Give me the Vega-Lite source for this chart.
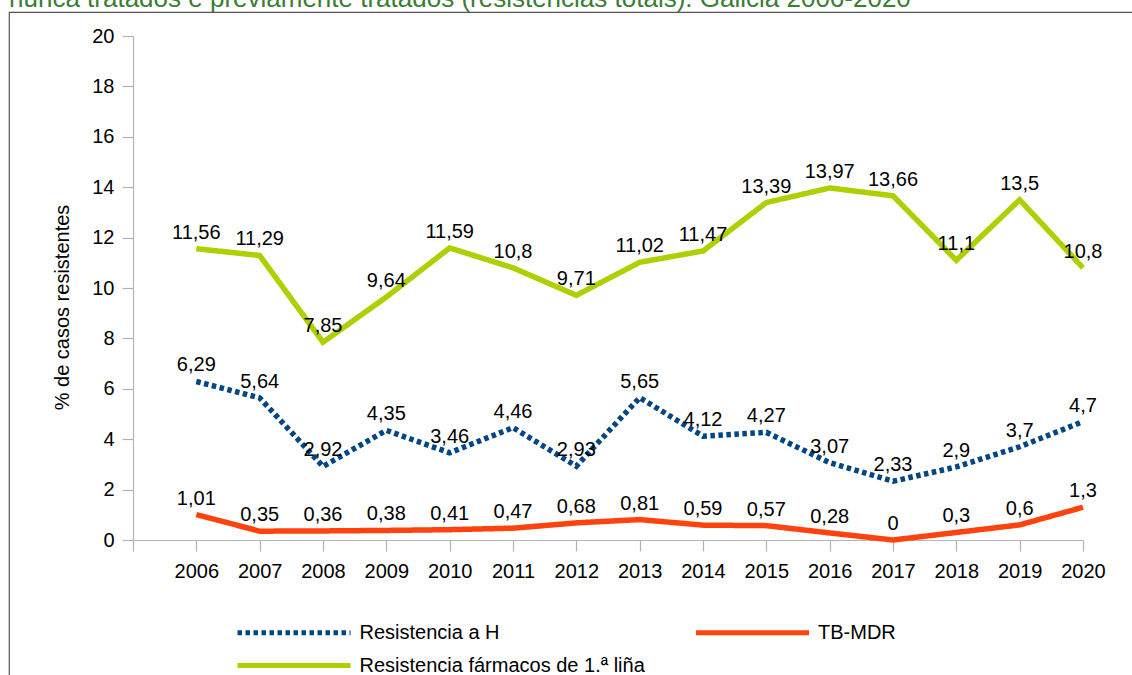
{
  "$schema": "https://vega.github.io/schema/vega-lite/v6.json",
  "width": 1123,
  "height": 663,
  "autosize": {"type": "none"},
  "padding": {"left": 9, "top": 12, "right": 0, "bottom": 0},
  "title": {
    "text": "nunca tratados e previamente tratados (resistencias totais). Galicia 2006-2020",
    "anchor": "start",
    "frame": "group",
    "fontSize": 26,
    "fontWeight": "normal",
    "font": "Liberation Sans",
    "color": "#3b7d36",
    "baseline": "alphabetic",
    "offset": -21
  },
  "data": {
    "values": [
      {"year": 2006, "series": "Resistencia a H", "value": 6.29},
      {"year": 2007, "series": "Resistencia a H", "value": 5.64},
      {"year": 2008, "series": "Resistencia a H", "value": 2.92},
      {"year": 2009, "series": "Resistencia a H", "value": 4.35},
      {"year": 2010, "series": "Resistencia a H", "value": 3.46},
      {"year": 2011, "series": "Resistencia a H", "value": 4.46},
      {"year": 2012, "series": "Resistencia a H", "value": 2.93},
      {"year": 2013, "series": "Resistencia a H", "value": 5.65},
      {"year": 2014, "series": "Resistencia a H", "value": 4.12},
      {"year": 2015, "series": "Resistencia a H", "value": 4.27},
      {"year": 2016, "series": "Resistencia a H", "value": 3.07},
      {"year": 2017, "series": "Resistencia a H", "value": 2.33},
      {"year": 2018, "series": "Resistencia a H", "value": 2.9},
      {"year": 2019, "series": "Resistencia a H", "value": 3.7},
      {"year": 2020, "series": "Resistencia a H", "value": 4.7},
      {"year": 2006, "series": "TB-MDR", "value": 1.01},
      {"year": 2007, "series": "TB-MDR", "value": 0.35},
      {"year": 2008, "series": "TB-MDR", "value": 0.36},
      {"year": 2009, "series": "TB-MDR", "value": 0.38},
      {"year": 2010, "series": "TB-MDR", "value": 0.41},
      {"year": 2011, "series": "TB-MDR", "value": 0.47},
      {"year": 2012, "series": "TB-MDR", "value": 0.68},
      {"year": 2013, "series": "TB-MDR", "value": 0.81},
      {"year": 2014, "series": "TB-MDR", "value": 0.59},
      {"year": 2015, "series": "TB-MDR", "value": 0.57},
      {"year": 2016, "series": "TB-MDR", "value": 0.28},
      {"year": 2017, "series": "TB-MDR", "value": 0},
      {"year": 2018, "series": "TB-MDR", "value": 0.3},
      {"year": 2019, "series": "TB-MDR", "value": 0.6},
      {"year": 2020, "series": "TB-MDR", "value": 1.3},
      {"year": 2006, "series": "Resistencia fármacos de 1.ª liña", "value": 11.56},
      {"year": 2007, "series": "Resistencia fármacos de 1.ª liña", "value": 11.29},
      {"year": 2008, "series": "Resistencia fármacos de 1.ª liña", "value": 7.85},
      {"year": 2009, "series": "Resistencia fármacos de 1.ª liña", "value": 9.64},
      {"year": 2010, "series": "Resistencia fármacos de 1.ª liña", "value": 11.59},
      {"year": 2011, "series": "Resistencia fármacos de 1.ª liña", "value": 10.8},
      {"year": 2012, "series": "Resistencia fármacos de 1.ª liña", "value": 9.71},
      {"year": 2013, "series": "Resistencia fármacos de 1.ª liña", "value": 11.02},
      {"year": 2014, "series": "Resistencia fármacos de 1.ª liña", "value": 11.47},
      {"year": 2015, "series": "Resistencia fármacos de 1.ª liña", "value": 13.39},
      {"year": 2016, "series": "Resistencia fármacos de 1.ª liña", "value": 13.97},
      {"year": 2017, "series": "Resistencia fármacos de 1.ª liña", "value": 13.66},
      {"year": 2018, "series": "Resistencia fármacos de 1.ª liña", "value": 11.1},
      {"year": 2019, "series": "Resistencia fármacos de 1.ª liña", "value": 13.5},
      {"year": 2020, "series": "Resistencia fármacos de 1.ª liña", "value": 10.8}
    ]
  },
  "encoding": {
    "x": {
      "field": "year",
      "type": "quantitative",
      "scale": {"domain": [2005, 2020], "range": [124, 1074], "nice": false, "zero": false},
      "axis": {
        "title": null,
        "orient": "bottom",
        "offset": -135,
        "values": [2005, 2006, 2007, 2008, 2009, 2010, 2011, 2012, 2013, 2014, 2015, 2016, 2017, 2018, 2019, 2020],
        "format": "d",
        "labelExpr": "datum.value == 2005 ? '' : datum.label",
        "labelOverlap": false,
        "labelFlush": false,
        "tickSize": 11,
        "labelPadding": 10,
        "grid": false
      }
    },
    "y": {
      "field": "value",
      "type": "quantitative",
      "scale": {"domain": [0, 20], "range": [528, 24], "nice": false},
      "axis": {
        "title": "% de casos resistentes",
        "orient": "left",
        "offset": -124,
        "values": [0, 2, 4, 6, 8, 10, 12, 14, 16, 18, 20],
        "labelOverlap": false,
        "tickSize": 11,
        "labelPadding": 8,
        "grid": false,
        "titleX": -71,
        "titleY": 295,
        "titleBaseline": "middle",
        "titleAngle": 270
      }
    }
  },
  "layer": [
    {
      "mark": {"type": "line", "strokeWidth": 5.5, "strokeCap": "butt", "strokeJoin": "miter"},
      "encoding": {
        "color": {
          "field": "series",
          "type": "nominal",
          "sort": null,
          "scale": {
            "domain": ["Resistencia a H", "TB-MDR", "Resistencia fármacos de 1.ª liña"],
            "range": ["#004586", "#ff420e", "#aecf00"]
          },
          "legend": {"title": null}
        },
        "strokeDash": {
          "field": "series",
          "type": "nominal",
          "sort": null,
          "scale": {
            "domain": ["Resistencia a H", "TB-MDR", "Resistencia fármacos de 1.ª liña"],
            "range": [[4.5, 3.5], [1, 0], [1, 0]]
          },
          "legend": {"title": null}
        }
      }
    },
    {
      "mark": {"type": "text", "dy": -10, "fontSize": 20, "baseline": "alphabetic", "color": "#000000", "font": "Liberation Sans"},
      "encoding": {
        "text": {"field": "value", "type": "quantitative", "format": "~g"},
        "detail": {"field": "series", "type": "nominal"}
      }
    }
  ],
  "config": {
    "locale": {
      "number": {"decimal": ",", "thousands": ".", "grouping": [3], "currency": ["", " €"]}
    },
    "font": "Liberation Sans",
    "view": {
      "stroke": "#555555",
      "strokeWidth": 1.2,
      "strokeDash": [1123, 1786, 663, 0]
    },
    "axis": {
      "labelFont": "Liberation Sans",
      "labelFontSize": 20,
      "labelColor": "#000000",
      "titleFont": "Liberation Sans",
      "titleFontSize": 20,
      "titleFontWeight": "normal",
      "titleColor": "#000000",
      "domainColor": "#b3b3b3",
      "tickColor": "#b3b3b3",
      "domainWidth": 1.2,
      "tickWidth": 1.2
    },
    "legend": {
      "orient": "none",
      "legendX": 272.5,
      "legendY": 608,
      "direction": "horizontal",
      "columns": 2,
      "symbolType": "M-5.65,0H5.65",
      "symbolSize": 400,
      "symbolStrokeWidth": 5,
      "labelFont": "Liberation Sans",
      "labelFontSize": 20,
      "labelColor": "#000000",
      "labelOffset": 53,
      "columnPadding": 40.5,
      "rowPadding": 10,
      "padding": 0,
      "labelLimit": 0
    }
  }
}
